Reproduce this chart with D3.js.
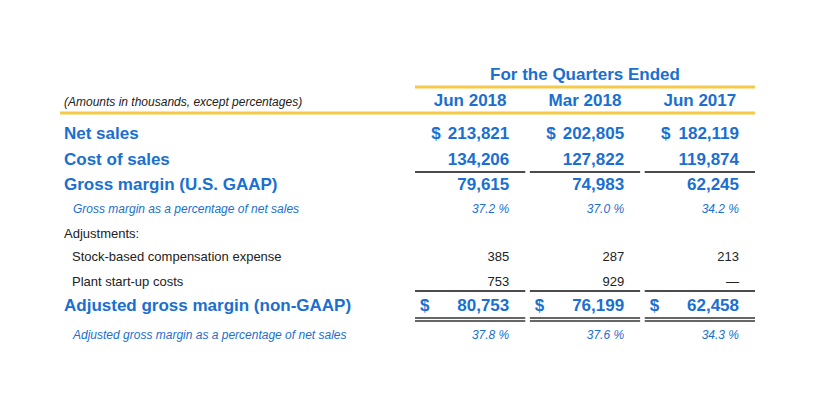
<!DOCTYPE html>
<html><head><meta charset="utf-8">
<script src="https://cdn.jsdelivr.net/npm/d3@7"></script>
<style>body{margin:0;background:#fff}text{font-family:"Liberation Sans",Arial,sans-serif}</style>
</head><body><svg id="c"></svg>
<script>
var columns = ["Jun 2018", "Mar 2018", "Jun 2017"];
var netSales = ["213,821", "202,805", "182,119"];
var costOfSales = ["134,206", "127,822", "119,874"];
var grossMargin = ["79,615", "74,983", "62,245"];
var grossPct = ["37.2 %", "37.0 %", "34.2 %"];
var stockComp = ["385", "287", "213"];
var plantStartup = ["753", "929", "—"];
var adjGross = ["80,753", "76,199", "62,458"];
var adjPct = ["37.8 %", "37.6 %", "34.3 %"];

var W = 820, H = 402, blue = "#1a6fd0", yellow = "#f7c948";
var svg = d3.select("#c").attr("width", W).attr("height", H);

var x = d3.scaleBand().domain(columns).range([415, 755]).paddingInner(0.04);
var right = function(c){ return x(c) + x.bandwidth() - 16; };

svg.append("text").attr("x", 585).attr("y", 80).attr("text-anchor","middle")
  .attr("fill", blue).attr("font-size", 17).attr("font-weight","bold").text("For the Quarters Ended");
svg.append("line").attr("x1",415).attr("x2",755).attr("y1",87).attr("y2",87).attr("stroke",yellow).attr("stroke-width",3);
svg.append("line").attr("x1",60).attr("x2",755).attr("y1",113).attr("y2",113).attr("stroke",yellow).attr("stroke-width",3);
svg.append("text").attr("x",64).attr("y",106).attr("font-size",12).attr("font-style","italic").attr("fill","#222")
  .text("(Amounts in thousands, except percentages)");
svg.selectAll(".hd").data(columns).enter().append("text")
  .attr("x", function(d){ return x(d) + x.bandwidth()/2; }).attr("y",106).attr("text-anchor","middle")
  .attr("fill", blue).attr("font-size",17).attr("font-weight","bold").text(function(d){ return d; });

var rows = [
  {label:"Net sales", y:139, vals:netSales, st:"big", dollar:true},
  {label:"Cost of sales", y:165, vals:costOfSales, st:"big"},
  {label:"Gross margin (U.S. GAAP)", y:190, vals:grossMargin, st:"big"},
  {label:"Gross margin as a percentage of net sales", y:213, vals:grossPct, st:"pct", lx:73},
  {label:"Adjustments:", y:238, vals:null, st:"plain"},
  {label:"Stock-based compensation expense", y:261, vals:stockComp, st:"plain", lx:72},
  {label:"Plant start-up costs", y:286, vals:plantStartup, st:"plain", lx:72},
  {label:"Adjusted gross margin (non-GAAP)", y:311, vals:adjGross, st:"big", dollar:true, wide:true},
  {label:"Adjusted gross margin as a percentage of net sales", y:339, vals:adjPct, st:"pct", lx:73}
];
function style(sel, st){
  if (st=="big") sel.attr("font-size",17).attr("font-weight","bold").attr("fill",blue);
  else if (st=="pct") sel.attr("font-size",12).attr("font-style","italic").attr("fill",blue);
  else sel.attr("font-size",13).attr("fill","#222");
}
rows.forEach(function(r){
  style(svg.append("text").attr("x", r.lx || 64).attr("y", r.y).text(r.label), r.st);
  if (!r.vals) return;
  columns.forEach(function(c,i){
    var t = svg.append("text").attr("x", right(c)).attr("y", r.y).attr("text-anchor","end").text(r.vals[i]);
    style(t, r.st);
    if (r.st=="big" && r.st && (r.wide || r.dollar)) {}
    if (r.dollar) {
      var s = svg.append("text").attr("y", r.y).text("$");
      style(s, "big");
      if (r.wide) s.attr("x", x(c) + 5);
      else s.attr("x", right(c) - 78);
    }
  });
});

// rules
columns.forEach(function(c){
  var x1 = x(c), x2 = x(c) + x.bandwidth();
  svg.append("line").attr("x1",x1).attr("x2",x2).attr("y1",172).attr("y2",172).attr("stroke","#111").attr("stroke-width",1.5);
  svg.append("line").attr("x1",x1).attr("x2",x2).attr("y1",291).attr("y2",291).attr("stroke","#111").attr("stroke-width",1.5);
  [318,321].forEach(function(y){
    svg.append("line").attr("x1",x1).attr("x2",x2).attr("y1",y).attr("y2",y).attr("stroke","#333").attr("stroke-width",1.3);
  });
});
</script></body></html>
